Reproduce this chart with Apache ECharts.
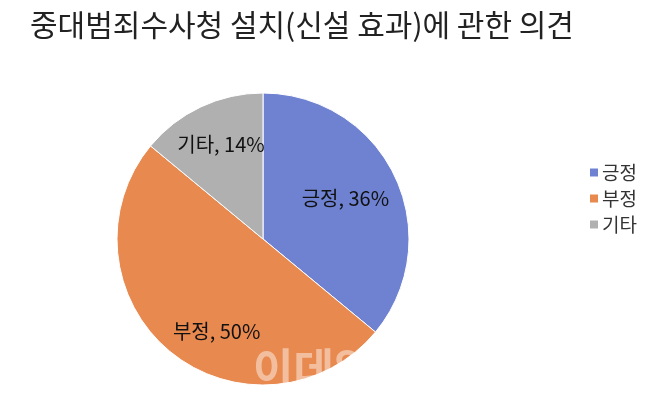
<!DOCTYPE html>
<html><head><meta charset="utf-8">
<script src="https://cdn.jsdelivr.net/npm/echarts@6/dist/echarts.min.js"></script>
<style>html,body{margin:0;padding:0;background:#fff}#c{width:670px;height:407px}</style>
</head><body><div id="c"></div>
<script>
const titleText = '중대범죄수사청 설치(신설 효과)에 관한 의견';
const categories = ['긍정', '부정', '기타'];
const values = [36, 50, 14];
const colors = ['#6F82D2', '#E8894F', '#B0B0B0'];
const FONT = '"Noto Sans CJK KR", "Noto Sans", sans-serif';
const labelNudge = [[-9, 2], [18, 15], [1, -3]];

const data = categories.map((c, i) => ({ name: c, value: values[i] }));
const labelData = categories.map((c, i) => ({ name: c, value: values[i], label: { offset: labelNudge[i] } }));
const chart = echarts.init(document.getElementById('c'));
chart.setOption({
  animation: false,
  color: colors,
  title: {
    text: titleText, left: 25, top: 5,
    textStyle: { fontFamily: FONT, fontSize: 30, fontWeight: 'normal', color: '#222' }
  },
  legend: {
    orient: 'vertical', left: 583, top: 158, itemWidth: 10, itemHeight: 10, itemGap: 7,
    icon: 'rect',
    data: categories,
    textStyle: { fontFamily: FONT, fontSize: 19, color: '#333', padding: [0, 0, 0, -2] }
  },
  series: [{
    type: 'pie', center: [263, 239], radius: [0, 146], startAngle: 90, clockwise: true,
    itemStyle: { borderColor: '#fff', borderWidth: 1 },
    label: { show: false }, labelLine: { show: false },
    data: data, silent: true
  }, {
    type: 'pie', center: [263, 239], radius: [0, 196], startAngle: 90, clockwise: true,
    itemStyle: { color: 'rgba(0,0,0,0)' },
    label: {
      show: true, position: 'inside', fontFamily: FONT, fontSize: 20, color: '#111',
      formatter: p => p.name + ', ' + p.value + '%'
    },
    labelLine: { show: false },
    data: labelData, silent: true, legendHoverLink: false
  }],
  graphic: [{
    type: 'text', left: 253, top: 347, silent: true, z: 100,
    style: { text: '이데일리', fontFamily: FONT, fontSize: 44, fontWeight: 'bold', fill: 'rgba(255,255,255,0.45)' }
  }]
});
</script></body></html>
